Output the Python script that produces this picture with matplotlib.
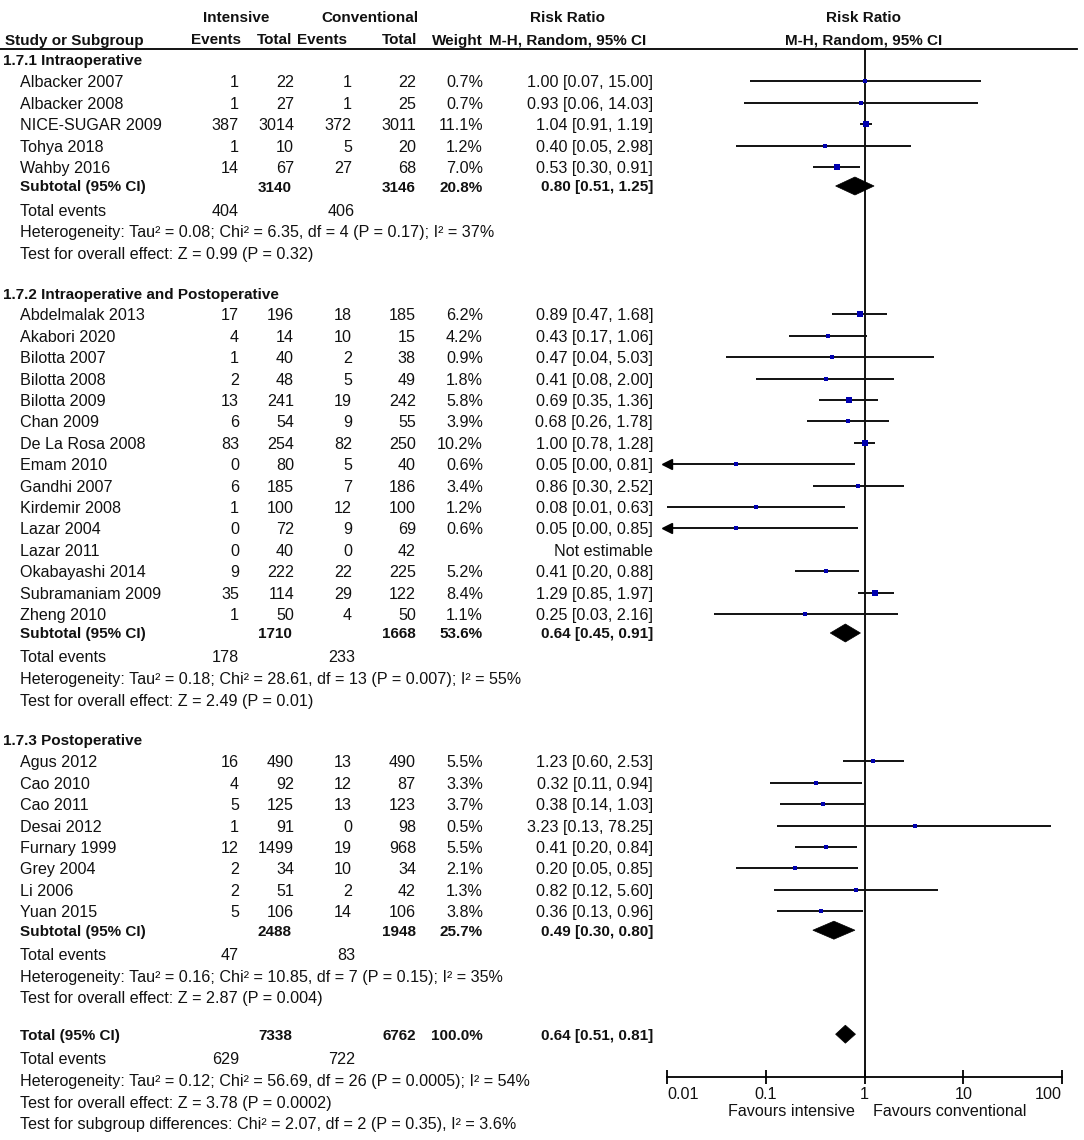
import matplotlib
matplotlib.use('Agg')
import matplotlib.pyplot as plt
from matplotlib.patches import Polygon
from matplotlib import font_manager

# ---------------- data ----------------
sec_titles = ["1.7.1 Intraoperative", "1.7.2 Intraoperative and Postoperative", "1.7.3 Postoperative"]

s1_names = ["Albacker 2007", "Albacker 2008", "NICE-SUGAR 2009", "Tohya 2018", "Wahby 2016"]
s1_ev1 = [1, 1, 387, 1, 14]
s1_n1 = [22, 27, 3014, 10, 67]
s1_ev2 = [1, 1, 372, 5, 27]
s1_n2 = [22, 25, 3011, 20, 68]
s1_w = [0.7, 0.7, 11.1, 1.2, 7.0]
s1_rr = [1.00, 0.93, 1.04, 0.40, 0.53]
s1_lo = [0.07, 0.06, 0.91, 0.05, 0.30]
s1_hi = [15.00, 14.03, 1.19, 2.98, 0.91]

s2_names = ["Abdelmalak 2013", "Akabori 2020", "Bilotta 2007", "Bilotta 2008", "Bilotta 2009",
            "Chan 2009", "De La Rosa 2008", "Emam 2010", "Gandhi 2007", "Kirdemir 2008",
            "Lazar 2004", "Lazar 2011", "Okabayashi 2014", "Subramaniam 2009", "Zheng 2010"]
s2_ev1 = [17, 4, 1, 2, 13, 6, 83, 0, 6, 1, 0, 0, 9, 35, 1]
s2_n1 = [196, 14, 40, 48, 241, 54, 254, 80, 185, 100, 72, 40, 222, 114, 50]
s2_ev2 = [18, 10, 2, 5, 19, 9, 82, 5, 7, 12, 9, 0, 22, 29, 4]
s2_n2 = [185, 15, 38, 49, 242, 55, 250, 40, 186, 100, 69, 42, 225, 122, 50]
s2_w = [6.2, 4.2, 0.9, 1.8, 5.8, 3.9, 10.2, 0.6, 3.4, 1.2, 0.6, None, 5.2, 8.4, 1.1]
s2_rr = [0.89, 0.43, 0.47, 0.41, 0.69, 0.68, 1.00, 0.05, 0.86, 0.08, 0.05, None, 0.41, 1.29, 0.25]
s2_lo = [0.47, 0.17, 0.04, 0.08, 0.35, 0.26, 0.78, 0.00, 0.30, 0.01, 0.00, None, 0.20, 0.85, 0.03]
s2_hi = [1.68, 1.06, 5.03, 2.00, 1.36, 1.78, 1.28, 0.81, 2.52, 0.63, 0.85, None, 0.88, 1.97, 2.16]

s3_names = ["Agus 2012", "Cao 2010", "Cao 2011", "Desai 2012", "Furnary 1999", "Grey 2004", "Li 2006", "Yuan 2015"]
s3_ev1 = [16, 4, 5, 1, 12, 2, 2, 5]
s3_n1 = [490, 92, 125, 91, 1499, 34, 51, 106]
s3_ev2 = [13, 12, 13, 0, 19, 10, 2, 14]
s3_n2 = [490, 87, 123, 98, 968, 34, 42, 106]
s3_w = [5.5, 3.3, 3.7, 0.5, 5.5, 2.1, 1.3, 3.8]
s3_rr = [1.23, 0.32, 0.38, 3.23, 0.41, 0.20, 0.82, 0.36]
s3_lo = [0.60, 0.11, 0.14, 0.13, 0.20, 0.05, 0.12, 0.13]
s3_hi = [2.53, 0.94, 1.03, 78.25, 0.84, 0.85, 5.60, 0.96]

sub_n1 = [3140, 1710, 2488]
sub_n2 = [3146, 1668, 1948]
sub_w = [20.8, 53.6, 25.7]
sub_rr = [0.80, 0.64, 0.49]
sub_lo = [0.51, 0.45, 0.30]
sub_hi = [1.25, 0.91, 0.80]
sub_ev1 = [404, 178, 47]
sub_ev2 = [406, 233, 83]
sub_het = ["Heterogeneity: Tau\u00b2 = 0.08; Chi\u00b2 = 6.35, df = 4 (P = 0.17); I\u00b2 = 37%",
           "Heterogeneity: Tau\u00b2 = 0.18; Chi\u00b2 = 28.61, df = 13 (P = 0.007); I\u00b2 = 55%",
           "Heterogeneity: Tau\u00b2 = 0.16; Chi\u00b2 = 10.85, df = 7 (P = 0.15); I\u00b2 = 35%"]
sub_test = ["Test for overall effect: Z = 0.99 (P = 0.32)",
            "Test for overall effect: Z = 2.49 (P = 0.01)",
            "Test for overall effect: Z = 2.87 (P = 0.004)"]

tot_n1, tot_n2, tot_w = 7338, 6762, 100.0
tot_rr, tot_lo, tot_hi = 0.64, 0.51, 0.81
tot_ev1, tot_ev2 = 629, 722
tot_het = "Heterogeneity: Tau\u00b2 = 0.12; Chi\u00b2 = 56.69, df = 26 (P = 0.0005); I\u00b2 = 54%"
tot_test = "Test for overall effect: Z = 3.78 (P = 0.0002)"
tot_sub = "Test for subgroup differences: Chi\u00b2 = 2.07, df = 2 (P = 0.35), I\u00b2 = 3.6%"

tick_vals = [0.01, 0.1, 1, 10, 100]
tick_labels = ["0.01", "0.1", "1", "10", "100"]

sections = [
    (s1_names, s1_ev1, s1_n1, s1_ev2, s1_n2, s1_w, s1_rr, s1_lo, s1_hi),
    (s2_names, s2_ev1, s2_n1, s2_ev2, s2_n2, s2_w, s2_rr, s2_lo, s2_hi),
    (s3_names, s3_ev1, s3_n1, s3_ev2, s3_n2, s3_w, s3_rr, s3_lo, s3_hi),
]

# ---------------- style ----------------
names_avail = {f.name for f in font_manager.fontManager.ttflist}
FONT = "Liberation Sans" if "Liberation Sans" in names_avail else "DejaVu Sans"
plt.rcParams['font.family'] = [FONT, 'DejaVu Sans']
FS = 11.6
FSB = 11
TXT = '#111111'

W, H = 1084, 1140
fig = plt.figure(figsize=(W / 100, H / 100), dpi=100)
tax = fig.add_axes([0, 0, 1, 1])
tax.set_xlim(0, W)
tax.set_ylim(H, 0)
tax.axis('off')

AX_L, AX_R, AX_Y = 667, 1062, 1077
fax = fig.add_axes([AX_L / W, (H - AX_Y) / H, (AX_R - AX_L) / W, AX_Y / H])
fax.set_xscale('log')
fax.set_xlim(0.01, 100)
fax.set_ylim(AX_Y, 0)
fax.patch.set_alpha(0)
for s in ['top', 'left', 'right']:
    fax.spines[s].set_visible(False)
fax.spines['bottom'].set_linewidth(1.3)
fax.yaxis.set_visible(False)
fax.set_xticks(tick_vals)
fax.set_xticklabels(tick_labels)
fax.minorticks_off()
fax.tick_params(axis='x', direction='inout', length=10, width=1.3, labelsize=FS, pad=2, colors='black',
                labelcolor=TXT)
labs = fax.get_xticklabels()
labs[0].set_horizontalalignment('left')
labs[-1].set_horizontalalignment('right')

X_EV1, X_N1, X_EV2, X_N2, X_W, X_RR = 239, 294, 352, 416, 483, 653
X_N1B, X_N2B = 292, 416
X_STUDY = 20
X_SEC = 3


def t(x, y, s, ha='left', bold=False):
    tax.text(x, y, s, ha=ha, va='center_baseline', fontsize=FSB if bold else FS,
             fontweight='bold' if bold else 'normal', color=TXT)


# header
t(236, 17, "Intensive", ha='center', bold=True)
t(370, 17, "Conventional", ha='center', bold=True)
t(568, 17, "Risk Ratio", ha='center', bold=True)
t(864, 17, "Risk Ratio", ha='center', bold=True)
t(5, 39, "Study or Subgroup", bold=True)
t(241, 39, "Events", ha='right', bold=True)
t(292, 39, "Total", ha='right', bold=True)
t(297, 39, "Events", bold=True)
t(417, 39, "Total", ha='right', bold=True)
t(483, 39, "Weight", ha='right', bold=True)
t(568, 39, "M-H, Random, 95% CI", ha='center', bold=True)
t(864, 39, "M-H, Random, 95% CI", ha='center', bold=True)
tax.plot([0, 1077], [49, 49], color='black', lw=1.3)

fax.plot([1, 1], [49, AX_Y], color='black', lw=1.3, clip_on=False)

STEP = 21.4


def fmt_ci(r, lo, hi):
    return f"{r:.2f} [{lo:.2f}, {hi:.2f}]"


def diamond(y, r, lo, hi):
    poly = Polygon([[lo, y], [r, y - 9], [hi, y], [r, y + 9]], closed=True,
                   facecolor='black', edgecolor='black', lw=0.5)
    fax.add_patch(poly)


y = 60
for k, sec in enumerate(sections):
    names, ev1, n1, ev2, n2, w, rr, lo, hi = sec
    t(X_SEC, y, sec_titles[k], bold=True)
    for i in range(len(names)):
        y += STEP
        t(X_STUDY, y, names[i])
        t(X_EV1, y, str(ev1[i]), ha='right')
        t(X_N1, y, str(n1[i]), ha='right')
        t(X_EV2, y, str(ev2[i]), ha='right')
        t(X_N2, y, str(n2[i]), ha='right')
        if rr[i] is None:
            t(X_RR, y, "Not estimable", ha='right')
            continue
        t(X_W, y, f"{w[i]:.1f}%", ha='right')
        t(X_RR, y, fmt_ci(rr[i], lo[i], hi[i]), ha='right')
        left = max(lo[i], 0.01)
        fax.plot([left, hi[i]], [y, y], color='#111111', lw=1.4, clip_on=False, solid_capstyle='butt')
        if lo[i] < 0.01:
            fax.plot([0.01], [y], marker='<', color='black', markersize=7, clip_on=False)
        side = 3.0 + 0.35 * w[i]
        fax.plot([rr[i]], [y], marker='s', color='#0000b0', markersize=side * 0.72,
                 markeredgewidth=0, clip_on=False, zorder=5)
    y += 19
    t(X_STUDY, y, "Subtotal (95% CI)", bold=True)
    t(X_N1B, y, str(sub_n1[k]), ha='right', bold=True)
    t(X_N2B, y, str(sub_n2[k]), ha='right', bold=True)
    t(X_W, y, f"{sub_w[k]:.1f}%", ha='right', bold=True)
    t(X_RR, y, fmt_ci(sub_rr[k], sub_lo[k], sub_hi[k]), ha='right', bold=True)
    diamond(y, sub_rr[k], sub_lo[k], sub_hi[k])
    y += 23.5
    t(X_STUDY, y, "Total events")
    t(X_EV1, y, str(sub_ev1[k]), ha='right')
    t(355, y, str(sub_ev2[k]), ha='right')
    y += 22
    t(X_STUDY, y, sub_het[k])
    y += 21.5
    t(X_STUDY, y, sub_test[k])
    y += 40 if k < len(sections) - 1 else 37

t(X_STUDY, y, "Total (95% CI)", bold=True)
t(X_N1B, y, str(tot_n1), ha='right', bold=True)
t(X_N2B, y, str(tot_n2), ha='right', bold=True)
t(X_W, y, f"{tot_w:.1f}%", ha='right', bold=True)
t(X_RR, y, fmt_ci(tot_rr, tot_lo, tot_hi), ha='right', bold=True)
diamond(y, tot_rr, tot_lo, tot_hi)
y += 24
t(X_STUDY, y, "Total events")
t(X_EV1, y, str(tot_ev1), ha='right')
t(355, y, str(tot_ev2), ha='right')
y += 22
t(X_STUDY, y, tot_het)
y += 21.5
t(X_STUDY, y, tot_test)
y += 21.5
t(X_STUDY, y, tot_sub)

t(855, 1110, "Favours intensive", ha='right')
t(873, 1110, "Favours conventional", ha='left')

fig.savefig('out.png', dpi=100)
